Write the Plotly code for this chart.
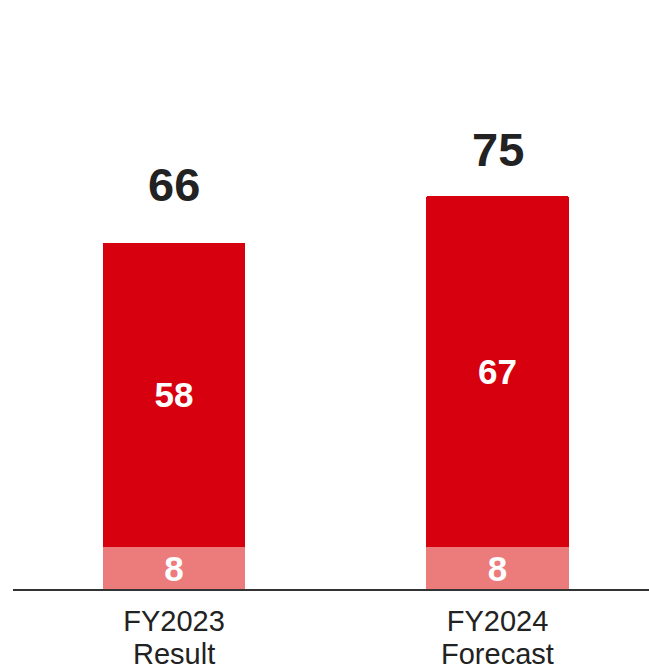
import plotly.graph_objects as go

categories = ["FY2023<br>Result", "FY2024<br>Forecast"]
base_values = [8, 8]
main_values = [58, 67]
totals = [66, 75]

RED = "#D7000F"
PINK = "#EC7B7B"
FONT = "Liberation Sans, Arial, sans-serif"
total_label_shift = [30, 18]

xs = [0, 1]
first_lines = [c.split("<br>")[0] for c in categories]
second_lines = [c.split("<br>")[1] for c in categories]

fig = go.Figure()
fig.add_trace(go.Bar(
    x=xs, y=base_values, width=0.44, marker=dict(color=PINK, line=dict(width=0)),
    text=[str(v) for v in base_values], textposition="inside", insidetextanchor="middle",
    textangle=0,
    textfont=dict(family=FONT, size=35, color="white", weight="bold"),
    constraintext="none", hoverinfo="skip",
))
fig.add_trace(go.Bar(
    x=xs, y=main_values, width=0.44, marker=dict(color=RED, line=dict(width=0), cornerradius=2),
    text=[str(v) for v in main_values], textposition="inside", insidetextanchor="middle",
    textangle=0,
    textfont=dict(family=FONT, size=35, color="white", weight="bold"),
    constraintext="none", hoverinfo="skip",
))
for x, t, s in zip(xs, totals, total_label_shift):
    fig.add_annotation(x=x, y=t, text=str(t), showarrow=False, yanchor="bottom",
                       yshift=s, font=dict(family=FONT, size=47, color="#222222", weight="bold"))
for x, line2 in zip(xs, second_lines):
    fig.add_annotation(x=x, xref="x", y=0, yref="paper", text=line2, showarrow=False,
                       yanchor="top", yshift=-47, font=dict(family=FONT, size=29, color="#222222"))

fig.update_layout(
    barmode="stack", width=649, height=670, showlegend=False,
    plot_bgcolor="white", paper_bgcolor="white",
    margin=dict(l=13, r=0, t=0, b=81, autoexpand=False),
    bargap=0,
    xaxis=dict(range=[-0.4977, 1.4683], tickvals=xs, ticktext=first_lines,
               showline=True, linecolor="#333333", linewidth=1.5, ticks="",
               showgrid=False, zeroline=False, fixedrange=True, ticklabelstandoff=6,
               automargin=False,
               tickfont=dict(family=FONT, size=29, color="#222222")),
    yaxis=dict(range=[0, 112.3], visible=False, fixedrange=True, automargin=False),
)
fig.write_html("out.html", config={"displayModeBar": False, "staticPlot": True})
with open("out.html", encoding="utf-8") as f:
    html = f.read()
html = html.replace("<head>", "<head><style>html,body{margin:0;padding:0;overflow:hidden;}</style>", 1)
with open("out.html", "w", encoding="utf-8") as f:
    f.write(html)
